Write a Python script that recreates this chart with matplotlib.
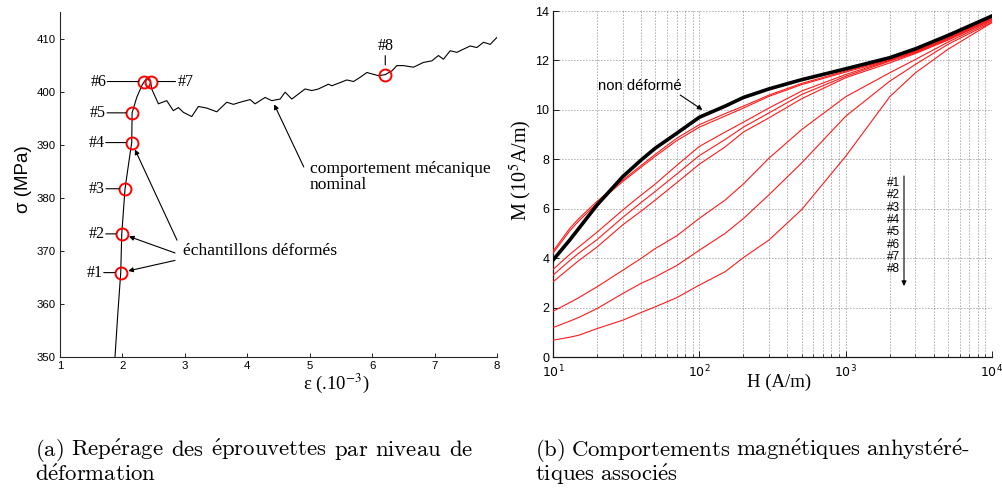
import matplotlib
matplotlib.use('Agg')
import matplotlib.pyplot as plt
from matplotlib.ticker import FixedLocator, LogLocator, NullFormatter

# ---------------- data : left panel (stress-strain curve) ----------------
strain = [1.881, 1.925, 1.973, 1.989, 2.042, 2.100, 2.149, 2.155, 2.229, 2.309,
          2.350, 2.390, 2.450, 2.469, 2.576, 2.709, 2.816, 2.896, 2.976, 3.110,
          3.217, 3.350, 3.511, 3.671, 3.778, 3.885, 4.045, 4.125, 4.285, 4.392,
          4.526, 4.606, 4.713, 4.926, 5.034, 5.140, 5.300, 5.354, 5.487, 5.595,
          5.701, 5.808, 5.915, 6.101, 6.210, 6.316, 6.396, 6.502, 6.662, 6.822,
          6.957, 7.062, 7.142, 7.250, 7.357, 7.463, 7.571, 7.677, 7.784, 7.891,
          7.998]
stress = [350.0, 358.0, 365.9, 373.2, 381.7, 386.5, 390.4, 396.0, 398.9, 401.1,
          401.9, 402.5, 401.9, 400.5, 397.7, 398.3, 396.4, 397.0, 396.1, 395.3,
          397.2, 396.9, 396.2, 398.0, 397.6, 398.0, 398.5, 397.7, 398.9, 398.3,
          398.6, 399.9, 398.6, 400.5, 400.2, 400.5, 401.4, 401.1, 401.7, 402.2,
          401.9, 402.7, 403.6, 403.0, 403.2, 403.9, 404.9, 404.9, 404.6, 405.5,
          405.8, 406.8, 406.1, 407.7, 407.4, 408.0, 408.6, 408.3, 409.3, 408.9,
          410.2]
sample_labels = ['#1', '#2', '#3', '#4', '#5', '#6', '#7', '#8']
sample_strain = [1.973, 1.989, 2.042, 2.149, 2.155, 2.350, 2.450, 6.210]
sample_stress = [365.9, 373.2, 381.7, 390.4, 396.0, 401.9, 401.9, 403.2]
left_xticks = [1, 2, 3, 4, 5, 6, 7, 8]
left_yticks = [350, 360, 370, 380, 390, 400, 410]

# ---------------- data : right panel (anhysteretic curves) ----------------
H = [10, 13, 15, 20, 30, 40, 50, 70, 100, 150, 200, 300, 500, 1000, 2000, 3000, 5000, 10000]
M_ref = [3.92, 4.73, 5.20, 6.15, 7.30, 7.97, 8.45, 9.05, 9.70, 10.15, 10.50, 10.85, 11.22, 11.66, 12.11, 12.47, 13.01, 13.80]
M_1 = [4.28, 5.20, 5.60, 6.30, 7.16, 7.75, 8.20, 8.85, 9.40, 9.85, 10.15, 10.60, 11.07, 11.57, 12.04, 12.38, 12.93, 13.75]
M_2 = [4.20, 5.10, 5.50, 6.22, 7.10, 7.68, 8.12, 8.75, 9.30, 9.75, 10.07, 10.55, 11.02, 11.53, 12.01, 12.36, 12.90, 13.73]
M_3 = [3.54, 4.15, 4.45, 5.05, 5.95, 6.55, 7.00, 7.75, 8.52, 9.10, 9.50, 10.08, 10.76, 11.43, 12.00, 12.34, 12.88, 13.70]
M_4 = [3.31, 3.90, 4.20, 4.75, 5.65, 6.25, 6.70, 7.40, 8.15, 8.80, 9.30, 9.88, 10.62, 11.36, 11.97, 12.31, 12.85, 13.66]
M_5 = [3.04, 3.60, 3.90, 4.45, 5.35, 5.90, 6.35, 7.05, 7.80, 8.50, 9.10, 9.68, 10.45, 11.30, 11.90, 12.28, 12.82, 13.64]
M_6 = [1.85, 2.20, 2.40, 2.84, 3.51, 3.99, 4.39, 4.90, 5.61, 6.35, 7.00, 8.05, 9.20, 10.53, 11.50, 12.04, 12.74, 13.60]
M_7 = [1.19, 1.45, 1.60, 1.96, 2.57, 2.98, 3.24, 3.70, 4.32, 5.00, 5.60, 6.57, 7.85, 9.74, 11.16, 11.84, 12.65, 13.55]
M_8 = [0.68, 0.80, 0.88, 1.15, 1.49, 1.80, 2.03, 2.40, 2.91, 3.45, 4.02, 4.74, 5.96, 8.12, 10.53, 11.50, 12.45, 13.53]
deformed_curves = [M_1, M_2, M_3, M_4, M_5, M_6, M_7, M_8]
right_yticks = [0, 2, 4, 6, 8, 10, 12, 14]
right_xticks = [10, 100, 1000, 10000]
right_xticklabels = ['$10^{1}$', '$10^{2}$', '$10^{3}$', '$10^{4}$']

captions = ["(a) Repérage des éprouvettes par niveau de", "déformation",
            "(b) Comportements magnétiques anhystéré-", "tiques associés"]

SANS = ['Liberation Sans', 'DejaVu Sans']
SERIF = ['Liberation Serif', 'DejaVu Serif']

W, Hpx = 1002, 490
fig = plt.figure(figsize=(W / 100, Hpx / 100), dpi=100)

# ======================= left panel =======================
ax1 = fig.add_axes([60 / W, 133 / Hpx, 437 / W, 345 / Hpx])
ax1.plot(strain, stress, color='k', lw=0.8, zorder=2)
ax1.plot(sample_strain, sample_stress, 'o', mfc='none', mec='#ff0000',
         ms=8.6, mew=1.4, zorder=3)
ax1.set_xlim(1, 8)
ax1.set_ylim(350, 415)
ax1.set_xticks(left_xticks)
ax1.set_yticks(left_yticks)
for s in ['top', 'right']:
    ax1.spines[s].set_visible(False)
for s in ['left', 'bottom']:
    ax1.spines[s].set_linewidth(0.8)
    ax1.spines[s].set_color('0.15')
ax1.tick_params(direction='in', length=3, width=0.6, labelsize=8.2, pad=3)
for lab in ax1.get_xticklabels() + ax1.get_yticklabels():
    lab.set_family(SANS)
ax1.set_ylabel('σ (MPa)', family=SANS, fontsize=13.5, va='center')
ax1.yaxis.set_label_coords((24 - 60) / 437, (357 - 179) / 345)
ax1.set_xlabel(r'ε (.10$^{-3}$)', family=SERIF, fontsize=13.5, va='center',
               math_fontfamily='stix')
ax1.xaxis.set_label_coords((336 - 60) / 437, (357 - 383) / 345)

# sample labels with short leader lines (offsets in pixels)
lab_font = dict(family=SERIF, fontsize=11.5)
left_side = {0: 17, 1: 16, 2: 19, 3: 26, 4: 25, 5: 37}
for i, a in left_side.items():
    pt = (sample_strain[i], sample_stress[i])
    ax1.annotate('', xy=pt, xytext=(-a, 0), textcoords='offset pixels',
                 arrowprops=dict(arrowstyle='-', lw=0.8, color='k',
                                 shrinkA=0, shrinkB=4.2))
    ax1.annotate(sample_labels[i], xy=pt, xytext=(-a - 1, 0),
                 textcoords='offset pixels', ha='right', va='center', **lab_font)
pt = (sample_strain[6], sample_stress[6])
ax1.annotate('', xy=pt, xytext=(25, 0), textcoords='offset pixels',
             arrowprops=dict(arrowstyle='-', lw=0.8, color='k', shrinkA=0, shrinkB=5.5))
ax1.annotate(sample_labels[6], xy=pt, xytext=(27, 0), textcoords='offset pixels',
             ha='left', va='center', **lab_font)
pt = (sample_strain[7], sample_stress[7])
ax1.annotate('', xy=pt, xytext=(0, 19), textcoords='offset pixels',
             arrowprops=dict(arrowstyle='-', lw=0.8, color='k', shrinkA=0, shrinkB=7))
ax1.annotate(sample_labels[7], xy=pt, xytext=(0, 21), textcoords='offset pixels',
             ha='center', va='bottom', **lab_font)

# "échantillons déformés"
txt_font = dict(family=SERIF, fontsize=12.6)
ax1.text(2.971, 369.9, 'échantillons déformés', ha='left', va='center', **txt_font)
arr = dict(arrowstyle='-|>', lw=0.8, color='k', mutation_scale=7, shrinkA=0, shrinkB=5.5)
ax1.annotate('', xy=(sample_strain[3], sample_stress[3]), xytext=(2.875, 372.0),
             arrowprops=arr)
ax1.annotate('', xy=(sample_strain[1], sample_stress[1]), xytext=(2.843, 369.6),
             arrowprops=arr)
ax1.annotate('', xy=(sample_strain[0], sample_stress[0]), xytext=(2.843, 368.2),
             arrowprops=arr)

# "comportement mécanique nominal"
ax1.text(5.006, 387.0, 'comportement mécanique\nnominal', ha='left', va='top',
         linespacing=1.05, **txt_font)
ax1.annotate('', xy=(4.43, 397.6), xytext=(4.905, 385.8),
             arrowprops=dict(arrowstyle='-|>', lw=0.8, color='k', mutation_scale=7,
                             shrinkA=0, shrinkB=0))

# ======================= right panel =======================
ax2 = fig.add_axes([553 / W, 133 / Hpx, 439 / W, 346 / Hpx])
ax2.set_xscale('log')
for M in deformed_curves:
    ax2.plot(H, M, color='#ff1a1a', lw=0.8, zorder=3)
ax2.plot(H, M_ref, color='k', lw=2.6, zorder=4, solid_joinstyle='round')
ax2.set_xlim(10, 10000)
ax2.set_ylim(0, 14)
ax2.yaxis.set_major_locator(FixedLocator(right_yticks))
ax2.xaxis.set_major_locator(FixedLocator(right_xticks))
ax2.xaxis.set_minor_locator(LogLocator(base=10, subs=range(2, 10)))
ax2.xaxis.set_minor_formatter(NullFormatter())
ax2.set_xticklabels(right_xticklabels)
grid_style = dict(linestyle=(0, (1, 2.6)), color='0.35', lw=0.6)
ax2.grid(True, which='major', axis='both', **grid_style)
ax2.grid(True, which='minor', axis='x', **grid_style)
ax2.set_axisbelow(True)
for s in ['top', 'right']:
    ax2.spines[s].set_visible(False)
for s in ['left', 'bottom']:
    ax2.spines[s].set_linewidth(0.9)
    ax2.spines[s].set_color('0.1')
ax2.tick_params(which='major', direction='in', length=4, width=0.6, labelsize=9, pad=2.5)
ax2.tick_params(axis='x', which='major', pad=5)
ax2.tick_params(which='minor', direction='in', length=2, width=0.5)
for lab in ax2.get_yticklabels():
    lab.set_family(SANS)
ax2.set_ylabel(r'M (10$^{5}$A/m)', family=SERIF, fontsize=14.5, va='center',
               math_fontfamily='stix')
ax2.yaxis.set_label_coords((521 - 553) / 439, (357 - 170) / 346)
ax2.set_xlabel('H (A/m)', family=SERIF, fontsize=13.5, va='center')
ax2.xaxis.set_label_coords((779 - 553) / 439, (357 - 382) / 346)

# "non déformé" annotation
ax2.text(20.3, 10.97, 'non déformé', family=SANS, fontsize=10.7, ha='left', va='center')
ax2.annotate('', xy=(105, 10.0), xytext=(74, 10.6),
             arrowprops=dict(arrowstyle='-|>', lw=0.8, color='k', mutation_scale=7,
                             shrinkA=0, shrinkB=0))

# legend list with downward arrow
for i, lab in enumerate(sample_labels):
    ax2.text((887 - 553) / 439, (357 - (183 + i * 12.3)) / 346, lab,
             transform=ax2.transAxes, family=SANS, fontsize=8.5,
             ha='left', va='center')
ax2.annotate('', xy=((904 - 553) / 439, (357 - 286) / 346),
             xytext=((904 - 553) / 439, (357 - 176) / 346),
             xycoords='axes fraction', textcoords='axes fraction',
             arrowprops=dict(arrowstyle='-|>', lw=0.8, color='k', mutation_scale=7,
                             shrinkA=0, shrinkB=0))


# ======================= captions (Computer Modern, justified) =======================
def cm_text(s):
    """Render text in Computer Modern roman through mathtext."""
    tail = ''
    if s.endswith('-'):
        s, tail = s[:-1], '-'
    return '$\\mathrm{' + s.replace(' ', '\\ ').replace('é', '\\acute{e}') + '}$' + tail


cap_kw = dict(family='cmr10', fontsize=16.4, va='baseline', math_fontfamily='cm')
renderer = fig.canvas.get_renderer()


def caption_justified(line, x0, y, x1):
    words = line.split(' ')
    texts = [fig.text(0, 1 - y / Hpx, cm_text(w), **cap_kw) for w in words]
    widths = [t.get_window_extent(renderer).width for t in texts]
    space = (x1 - x0 - sum(widths)) / (len(words) - 1)
    x = x0
    for t, wd in zip(texts, widths):
        t.set_x(x / W)
        x += wd + space


caption_justified(captions[0], 35, 456, 473)
fig.text(35 / W, 1 - 481 / Hpx, cm_text(captions[1]), **cap_kw)
caption_justified(captions[2], 535, 456, 970)
fig.text(535 / W, 1 - 481 / Hpx, cm_text(captions[3]), **cap_kw)

fig.savefig('out.png', dpi=100)
